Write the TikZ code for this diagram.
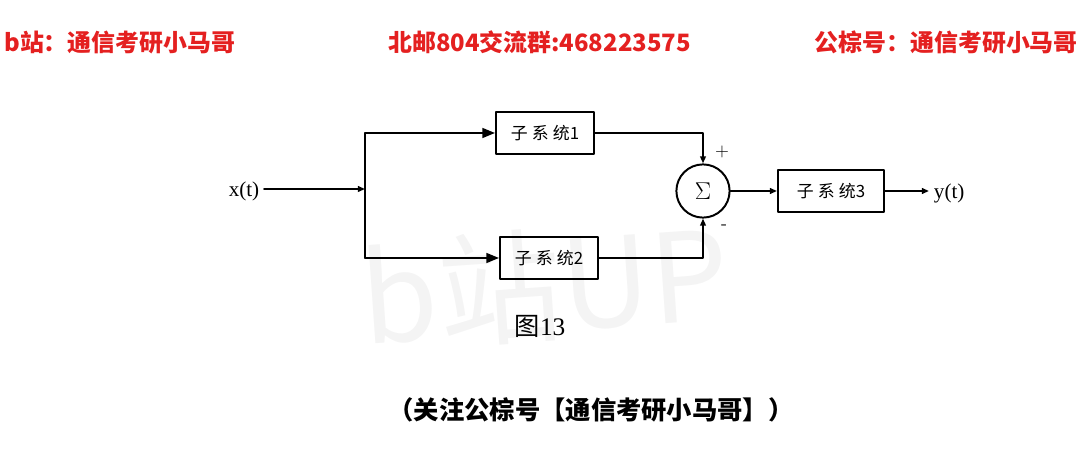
\documentclass[tikz,border=0pt]{standalone}
\usepackage{fontspec}
\setmainfont{Liberation Serif}
\newfontfamily\cjk{Noto Sans CJK SC}
\usetikzlibrary{arrows.meta, calc, positioning}

\definecolor{hdrred}{RGB}{228,32,32}
\definecolor{wmgray}{RGB}{244,244,244}

\tikzset{
  blk/.style={draw, line width=1.4pt, minimum width=2.45cm, minimum height=1.05cm,
    inner sep=0pt, font=\cjk\fontsize{12}{12}\selectfont},
  wire/.style={line width=1.4pt},
  bigtip/.style={-{Triangle[length=9pt,width=7pt]}},
  smalltip/.style={-{Triangle[length=5pt,width=4pt]}},
  hdr/.style={text=hdrred, font=\cjk\bfseries\fontsize{17}{17}\selectfont, inner sep=0pt}
}

\begin{document}
\begin{tikzpicture}[line cap=round,line join=round,x=0.025cm,y=-0.025cm]
\useasboundingbox (0,0) rectangle (1080,465);

% watermark
\node[text=wmgray, font=\cjk\fontsize{88}{88}\selectfont, rotate=4] (W) at (545,285) {b站UP};

% header
\node[hdr, anchor=west] (H1) at (4,42) {b站：通信考研小马哥};
\node[hdr, anchor=west] (H2) at (388,42) {北邮804交流群:468223575};
\node[hdr, anchor=east] (H3) at (1078,42) {公棕号：通信考研小马哥};

% blocks
\node[font=\fontsize{15}{15}\selectfont] (X) at (244,191) {x(t)};
\coordinate (J) at (365,189);
\node[blk] (S1) at (545,133) {子\hspace{3pt}系\hspace{3pt}统1};
\node[blk] (S2) at (549,258) {子\hspace{3pt}系\hspace{3pt}统2};
\node[draw, circle, line width=1.4pt, minimum size=1.33cm, inner sep=0pt,
  font=\fontsize{16}{16}\selectfont] (Sum) at (703,191) {$\Sigma$};
\node[blk, minimum width=2.65cm, minimum height=1.07cm] (S3) at (831,191) {子\hspace{3pt}系\hspace{3pt}统3};
\node[font=\fontsize{15}{15}\selectfont, anchor=west] (Y) at (929,193) {y(t)};

% wires
\draw[wire, smalltip] (X.east |- J) -- (J);
\draw[wire] (J |- S1.west) -- (J |- S2.west);
\draw[wire, bigtip] (J |- S1.west) -- (S1.west);
\draw[wire, bigtip] (J |- S2.west) -- (S2.west);
\draw[wire, smalltip] (S1.east) -| (Sum.north);
\draw[wire, smalltip] (S2.east) -| (Sum.south);
\draw[wire, smalltip] (Sum.east) -- (S3.west);
\draw[wire, smalltip] (S3.east) -- (S3.east -| Y.west);

\begin{normalsize}
\draw[color=black, font=\sffamily\fontsize{13}{13}\selectfont] (722,152) node {+};
\draw[color=black, font=\sffamily\fontsize{13}{13}\selectfont] (724,227) node {-};
\end{normalsize}

% captions
\node[font=\fontsize{18}{18}\selectfont] (C) at (540,326) {{\cjk 图}13};
\node[font=\cjk\bfseries\fontsize{18}{18}\selectfont] (N) at (591,410) {（关注公棕号【通信考研小马哥】）};

\end{tikzpicture}
\end{document}
